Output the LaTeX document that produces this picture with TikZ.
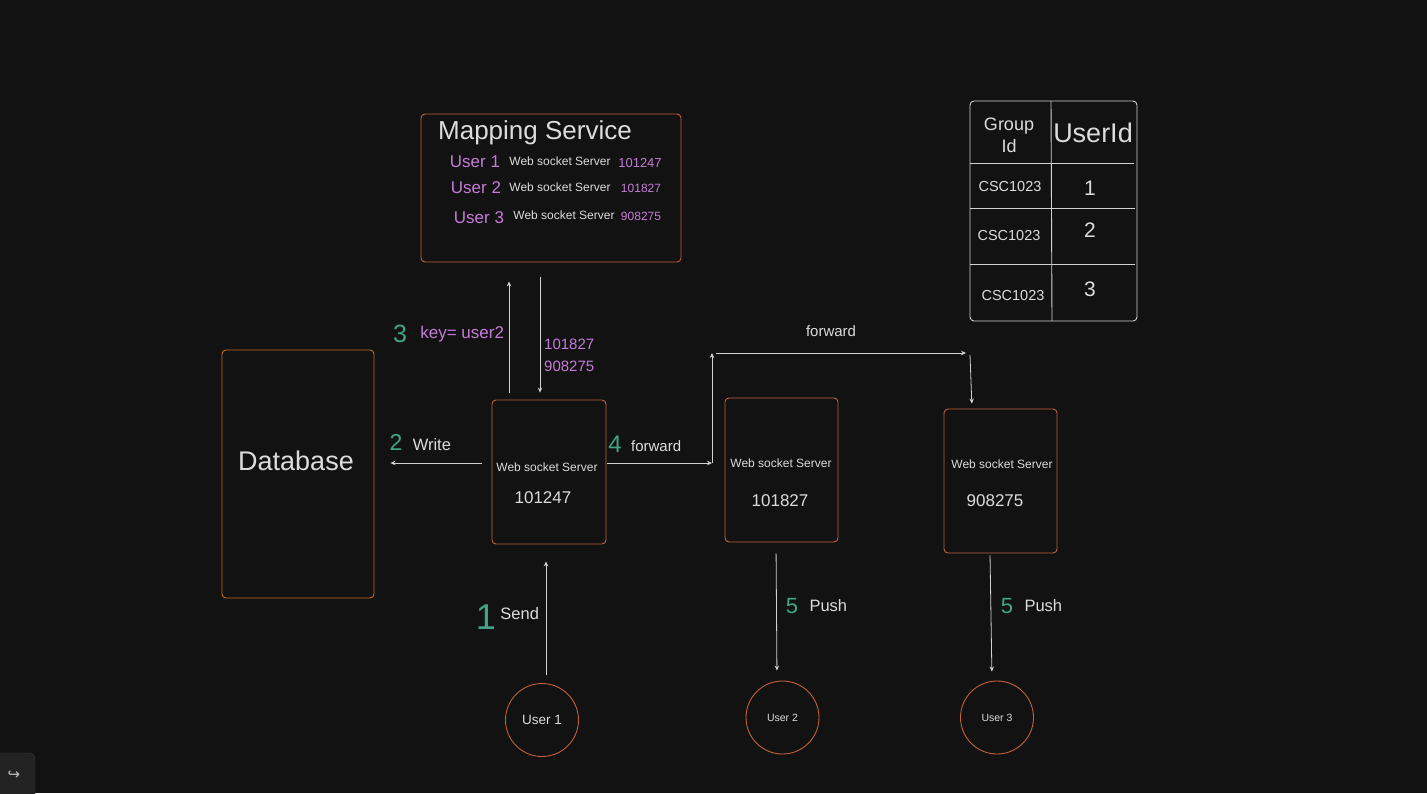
\documentclass[tikz,border=0pt]{standalone}
\usepackage{fontspec}
\setmainfont{Liberation Sans}
\newfontfamily\symfont{DejaVu Sans}
\usepackage{tikz}
\usetikzlibrary{arrows.meta}
\usetikzlibrary{positioning}
\definecolor{bg}{HTML}{121212}
\definecolor{boxc}{HTML}{C2613A}
\definecolor{dbc}{HTML}{C46A1E}
\definecolor{linec}{HTML}{D2D2D2}
\definecolor{txt}{HTML}{DCDCDC}
\definecolor{stepc}{HTML}{3FA586}
\definecolor{keyc}{HTML}{C67BD9}
\definecolor{btnc}{HTML}{232323}
\definecolor{btnl}{HTML}{383838}
\newcommand{\fsz}[1]{\fontsize{#1}{#1}\selectfont}

\begin{document}
\begin{tikzpicture}[
    x=1pt, y=-1pt,
    box/.style={draw=boxc,line width=0.9pt,rounded corners=4pt,inner sep=0pt},
    srv/.style={box,minimum width=114pt,minimum height=144pt},
    usr/.style={circle,draw=boxc,line width=0.9pt,minimum size=73pt,inner sep=0pt,text=txt},
    lbl/.style={text=txt,inner sep=0pt},
    num/.style={text=stepc,inner sep=0pt},
    pur/.style={text=keyc,inner sep=0pt},
    arr/.style={draw=linec,line width=0.8pt,-{Stealth[length=5pt,width=4.5pt]}},
    grid/.style={draw=linec,line width=0.9pt},
]
    \useasboundingbox (0,0) rectangle (1427,793);
    \fill[bg] (0,0) rectangle (1427,793);

    %boxes
    \node[box,draw=dbc,minimum width=152pt,minimum height=248pt] (db) at (298,474) {};
    \node[lbl,font=\fsz{27}] (dbt) at (296,461) {Database};

    \node[box,minimum width=260pt,minimum height=148pt] (map) at (551,188) {};
    \node[lbl,font=\fsz{26}] (mapt) at (535,133) {Mapping Service};

    \node[srv] (srv1) at (549,472) {};
    \node[srv,minimum width=113pt] (srv2) at (781.5,470) {};
    \node[srv,minimum width=113pt] (srv3) at (1000.5,481) {};

    \node[usr,font=\fsz{13.5}] (u1) at (542,720) {User 1};
    \node[usr,font=\fsz{10.5}] (u2) at (782.5,717.5) {User 2};
    \node[usr,font=\fsz{10.5}] (u3) at (997,717.5) {User 3};

    %mapping rows
    \node[pur,font=\fsz{17}] (mu1) at (475,162) {User 1};
    \node[lbl,font=\fsz{12}] (mw1) at (560,161) {Web socket Server};
    \node[pur,font=\fsz{13}] (mn1) at (640,163) {101247};
    \node[pur,font=\fsz{17}] (mu2) at (476,188) {User 2};
    \node[lbl,font=\fsz{12}] (mw2) at (560,187) {Web socket Server};
    \node[pur,font=\fsz{12}] (mn2) at (641,188) {101827};
    \node[pur,font=\fsz{17}] (mu3) at (479,218) {User 3};
    \node[lbl,font=\fsz{12}] (mw3) at (564,215) {Web socket Server};
    \node[pur,font=\fsz{12}] (mn3) at (641,216) {908275};

    %server texts
    \node[lbl,font=\fsz{12}] (s1a) at (547,467) {Web socket Server};
    \node[lbl,font=\fsz{17}] (s1b) at (543,498) {101247};
    \node[lbl,font=\fsz{12}] (s2a) at (781,463) {Web socket Server};
    \node[lbl,font=\fsz{17}] (s2b) at (780,501) {101827};
    \node[lbl,font=\fsz{12}] (s3a) at (1002,464) {Web socket Server};
    \node[lbl,font=\fsz{17}] (s3b) at (995,501) {908275};

    %table
    \node[box,draw=linec,minimum width=167pt,minimum height=220pt] (tbl) at (1053.5,211) {};
    \draw[grid] (1051,101) -- (1052,321);
    \draw[grid] (970,163) -- (1134,163);
    \draw[grid] (970,208) -- (1135,208);
    \draw[grid] (970,264) -- (1135,264);
    \node[lbl,align=center,font=\fontsize{18}{22}\selectfont] (gid) at (1009,135) {Group\\Id};
    \node[lbl,font=\fsz{27}] (uid) at (1093,133) {UserId};
    \node[lbl,font=\fsz{14.5}] (g1) at (1010,187) {CSC1023};
    \node[lbl,font=\fsz{14.5}] (g2) at (1009,236) {CSC1023};
    \node[lbl,font=\fsz{14.5}] (g3) at (1013,296) {CSC1023};
    \node[lbl,font=\fsz{21}] (id1) at (1090,188) {1};
    \node[lbl,font=\fsz{21}] (id2) at (1090,230) {2};
    \node[lbl,font=\fsz{21}] (id3) at (1090,289) {3};

    %step labels
    \node[num,font=\fsz{36}] (n1) at (486,617) {1};
    \node[lbl,font=\fsz{16.5},right=4pt of n1,yshift=3pt] (send) {Send};
    \node[num,font=\fsz{23}] (n2) at (396,442) {2};
    \node[lbl,font=\fsz{16.5},right=10pt of n2,yshift=-3pt] (write) {Write};
    \node[num,font=\fsz{25}] (n3) at (400,334) {3};
    \node[pur,font=\fsz{17},right=13pt of n3] (key) {key= user2};
    \node[pur,anchor=west,align=left,font=\fontsize{15}{22}\selectfont] (ans) at (544,355) {101827\\908275};
    \node[num,font=\fsz{24}] (n4) at (615,444) {4};
    \node[lbl,font=\fsz{15},right=9pt of n4,yshift=-2pt] (fwd1) {forward};
    \node[lbl,font=\fsz{15}] (fwd2) at (831,331) {forward};
    \node[num,font=\fsz{22}] (n5a) at (792,606) {5};
    \node[lbl,font=\fsz{16.5},right=11pt of n5a] (push2) {Push};
    \node[num,font=\fsz{22}] (n5b) at (1007,606) {5};
    \node[lbl,font=\fsz{16.5},right=11pt of n5b] (push3) {Push};

    %corners
    \coordinate (c1) at (712,463);
    \coordinate (c2) at (712,353);
    \coordinate (c3) at (966,353);
    \coordinate (c4) at (970,355);

    %arrows
    \draw[arr,shorten <=8pt,shorten >=17pt] ([xshift=4pt]u1.north) -- ([xshift=-3pt]srv1.south);
    \draw[arr,shorten <=10pt,shorten >=16pt] ([yshift=9pt]srv1.west) -- ([yshift=11pt]db.east);
    \draw[arr,shorten <=7pt,shorten >=19pt] ([xshift=-40pt]srv1.north) -- ([xshift=-42pt]map.south);
    \draw[arr,shorten <=15pt,shorten >=7pt] ([xshift=-11pt]map.south) -- ([xshift=-9pt]srv1.north);
    \draw[arr,shorten <=1pt] ([yshift=9pt]srv1.east) -- (c1);
    \draw[arr] (c1) -- (c2);
    \draw[arr] ([xshift=4pt]c2) -- (c3);
    \draw[arr,shorten >=5pt] (c4) -- ([xshift=-28.5pt]srv3.north);
    \draw[arr,shorten <=11pt,shorten >=10pt] ([xshift=-5.5pt]srv2.south) -- ([xshift=-5.5pt]u2.north);
    \draw[arr,shorten <=2pt,shorten >=9pt] ([xshift=-10.5pt]srv3.south) -- ([xshift=-5pt]u3.north);

    %redo button
    \draw[fill=btnc,draw=btnl,rounded corners=6pt] (-12,753) rectangle (35,805);
    \node[text=black!25!white,font=\symfont\fsz{15}] (redo) at (14,775) {↪};
\end{tikzpicture}
\end{document}
